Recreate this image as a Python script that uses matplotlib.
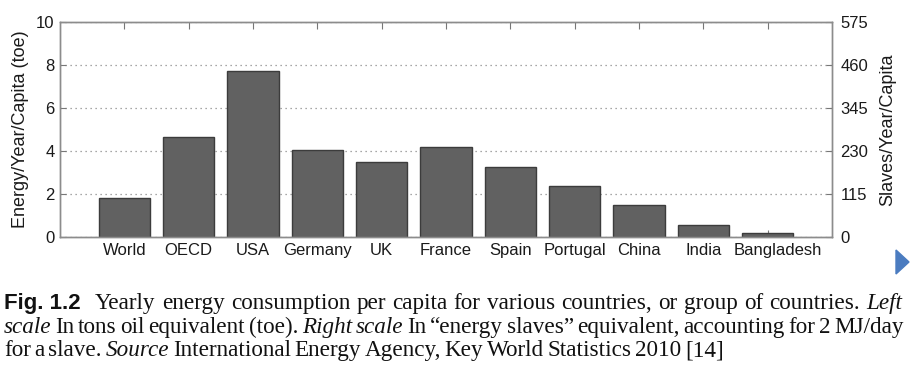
import numpy as np
import matplotlib
matplotlib.use("Agg")
import matplotlib.pyplot as plt
from matplotlib.patches import Polygon
from matplotlib.transforms import ScaledTranslation

# values (toe per capita per year)
countries = ["World", "OECD", "USA", "Germany", "UK", "France", "Spain",
             "Portugal", "China", "India", "Bangladesh"]
toe = [1.81, 4.65, 7.74, 4.06, 3.47, 4.17, 3.24, 2.39, 1.49, 0.56, 0.17]
left_ticks = [0, 2, 4, 6, 8, 10]
right_ticks = [0, 115, 230, 345, 460, 575]

W, H = 910, 387
fig = plt.figure(figsize=(W / 100, H / 100), dpi=100)
plt.rcParams['font.family'] = ['Liberation Sans', 'DejaVu Sans']

ax = fig.add_axes([60 / W, 1 - 237 / H, (832 - 60) / W, (237 - 22) / H])
pos = np.arange(1, len(countries) + 1)
ax.bar(pos, toe, width=0.8, color="#616161", edgecolor="#3c3c3c", linewidth=1.0, zorder=2)
ax.set_xlim(0, 12)
ax.set_ylim(0, 10)
ax.set_xticks(pos)
ax.set_xticklabels(countries, fontsize=12, color="#1a1a1a")
ax.set_yticks(left_ticks)
ax.tick_params(axis="y", labelsize=12, colors="#1a1a1a", direction="in", length=4, pad=4)
ax.tick_params(axis="x", direction="in", length=5, top=True, color="#777777", pad=4)
ax.tick_params(axis="y", color="#777777")
ax.set_axisbelow(True)
ax.yaxis.grid(True, linestyle=(0, (1, 3)), color="#8a8a8a", linewidth=0.9)
ax.set_ylabel("Energy/Year/Capita (toe)", fontsize=13, color="#1a1a1a", labelpad=5)
for s in ax.spines.values():
    s.set_color("#8c8c8c")
    s.set_linewidth(1.0)

ax2 = ax.twinx()
ax2.set_ylim(0, 575)
ax2.set_yticks(right_ticks)
ax2.tick_params(axis="y", labelsize=12, colors="#1a1a1a", direction="in", length=4, pad=6)
ax2.tick_params(axis="y", color="#777777")
ax2.set_ylabel("Slaves/Year/Capita", fontsize=13, color="#1a1a1a", labelpad=8)
for s in ax2.spines.values():
    s.set_color("#8c8c8c")
    s.set_linewidth(1.0)

# caption: bold sans label, then justified serif text placed word by word
serif = ['Liberation Serif', 'DejaVu Serif']
cap_size = 16.7
rm = dict(family=serif, size=cap_size)
it = dict(family=serif, style="italic", size=cap_size)

line1 = [(w, rm) for w in "Yearly energy consumption per capita for various countries, or group of countries.".split()] + [("Left", it)]
line2 = ([("scale", it)] + [(w, rm) for w in "In tons oil equivalent (toe).".split()]
         + [("Right", it), ("scale", it)]
         + [(w, rm) for w in "In \u201cenergy slaves\u201d equivalent, accounting for 2\u2009MJ/day".split()])
line3 = ([(w, rm) for w in "for a slave.".split()] + [("Source", it)]
         + [(w, rm) for w in "International Energy Agency, Key World Statistics 2010 [14]".split()])

renderer = fig.canvas.get_renderer()
fig.text(4 / W, 1 - 309 / H, "Fig. 1.2", va="baseline", ha="left", color="#111111",
         family=['Liberation Sans', 'DejaVu Sans'], weight="bold", size=16)

for words, x0, x1, yb in [(line1, 95, 902, 309), (line2, 4, 904, 333), (line3, 4, 724, 356)]:
    texts = [fig.text(0, 1 - yb / H, w, va="baseline", ha="left", color="#111111", **kw) for w, kw in words]
    widths = [t.get_window_extent(renderer).width for t in texts]
    gap = (x1 - x0 - sum(widths)) / (len(texts) - 1)
    x = x0
    for t, wd in zip(texts, widths):
        t.set_x(x / W)
        x += wd + gap

# small blue marker at the right edge
fig.patches.append(Polygon([[896 / W, 1 - 250 / H], [896 / W, 1 - 274 / H], [909 / W, 1 - 262 / H]],
                           closed=True, transform=fig.transFigure, color="#4b7cc0"))

# the last label sits a little right of its bar in the original
last = ax.xaxis.get_major_ticks()[-1].label1
last.set_transform(last.get_transform() + ScaledTranslation(0.10, 0, fig.dpi_scale_trans))

fig.savefig("out.png", dpi=100)
